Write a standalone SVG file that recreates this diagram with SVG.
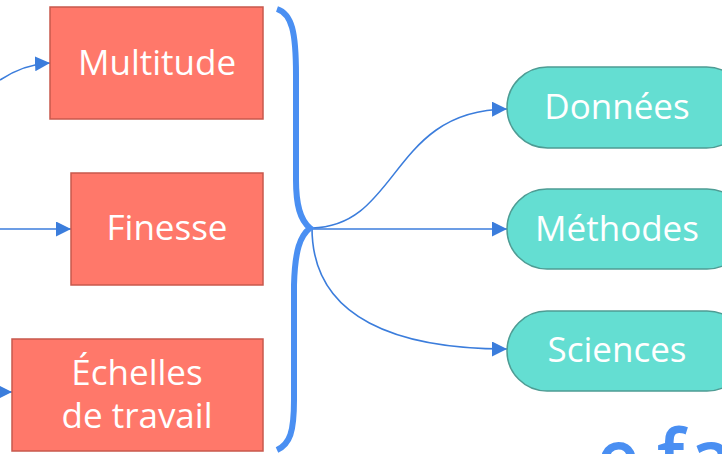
<svg xmlns="http://www.w3.org/2000/svg" width="722" height="454" viewBox="0 0 722 454">
<defs>
<style>
.box{fill:#FF786A;stroke:#C8584C;stroke-width:1.5}
.pill{fill:#64DED2;stroke:#4E9C94;stroke-width:1.5}
.lbl{fill:#FFFFFF;font-family:"Open Sans","Noto Sans",sans-serif;font-size:35px;text-anchor:middle}
.con{fill:none;stroke:#3B7DDC;stroke-width:1.6}
.brace{fill:none;stroke:#4A8FF2;stroke-width:6;stroke-linejoin:miter}
</style>
<marker id="ah" viewBox="0 0 10 10" refX="10" refY="5" markerWidth="15" markerHeight="15" markerUnits="userSpaceOnUse" orient="auto">
<path d="M0,0 L10,5 L0,10 Z" fill="#3B7DDC"/>
</marker>
</defs>
<g id="connectors">
<path class="con" d="M0,80 C15,70 30,64 50,63" marker-end="url(#ah)"/>
<path class="con" d="M0,229 L71,229" marker-end="url(#ah)"/>
<path class="con" d="M-10,392 L12,392" marker-end="url(#ah)"/>
<path class="con" d="M312,228 C400,226 390,110 507,109" marker-end="url(#ah)"/>
<path class="con" d="M312,229 L507,229" marker-end="url(#ah)"/>
<path class="con" d="M312,228 C312,320 400,349 507,349" marker-end="url(#ah)"/>
</g>
<g id="brace">
<path class="brace" d="M277,9 C292,14 296,32 296,75 L296,180 C296,205 300,220 310,228 C300,236 295,250 294,285 L294,400 C294,432 290,444 277,450"/>
</g>
<g id="multitude">
<rect class="box" x="50" y="7" width="213" height="112"/>
<text class="lbl" x="157" y="75">Multitude</text>
</g>
<g id="finesse">
<rect class="box" x="71" y="173" width="192" height="112"/>
<text class="lbl" x="167" y="240">Finesse</text>
</g>
<g id="echelles">
<rect class="box" x="12" y="339" width="251" height="112"/>
<text class="lbl" x="137" y="385">Échelles</text>
<text class="lbl" x="137" y="428">de travail</text>
</g>
<g id="donnees">
<rect class="pill" x="507" y="67" width="240" height="81" rx="40.5"/>
<text class="lbl" x="617" y="119">Données</text>
</g>
<g id="methodes">
<rect class="pill" x="507" y="189" width="240" height="80" rx="40"/>
<text class="lbl" x="617" y="241">Méthodes</text>
</g>
<g id="sciences">
<rect class="pill" x="507" y="311" width="240" height="80" rx="40"/>
<text class="lbl" x="617" y="362">Sciences</text>
</g>
<text x="596" y="484" fill="#4A8FF2" stroke="#4A8FF2" stroke-width="2" font-family="'Noto Sans',sans-serif" font-size="74"><tspan x="597">e</tspan><tspan x="658">f</tspan><tspan x="690">a</tspan></text>
</svg>
